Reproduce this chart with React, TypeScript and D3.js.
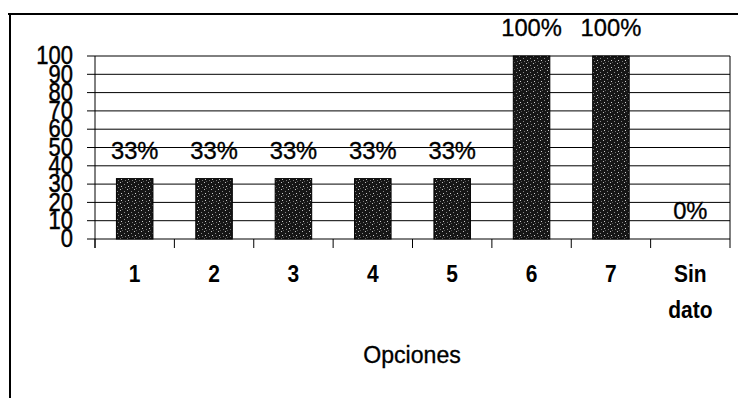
import React from "react";
import * as d3 from "d3";

const categories = ["1", "2", "3", "4", "5", "6", "7", "Sin dato"];
const values = [33, 33, 33, 33, 33, 100, 100, 0];
const labels = ["33%", "33%", "33%", "33%", "33%", "100%", "100%", "0%"];
const yTicks = [0, 10, 20, 30, 40, 50, 60, 70, 80, 90, 100];
const xTitle = "Opciones";

const W = 738;
const H = 398;
const plotLeft = 95;
const plotRight = 730;
const plotTop = 56;
const plotBottom = 239;
const font = "'Liberation Sans', Arial, sans-serif";

export default function App() {
  const x = d3.scaleBand<string>().domain(categories).range([plotLeft, plotRight]).padding(0);
  const y = d3.scaleLinear().domain([0, 100]).range([plotBottom, plotTop]);
  const bw = x.bandwidth() * 0.46;

  return (
    <svg
      width={W}
      height={H}
      style={{ position: "absolute", left: 0, top: 0, background: "#fff" }}
    >
      <defs>
        <pattern id="stip" width="7" height="7" patternUnits="userSpaceOnUse">
          <rect width="7" height="7" fill="#161616" />
          <rect x="1" y="0" width="1" height="1" fill="#bdbdbd" />
          <rect x="5" y="2" width="1" height="1" fill="#8a8a8a" />
          <rect x="2" y="4" width="1" height="1" fill="#d0d0d0" />
          <rect x="6" y="5" width="1" height="1" fill="#777" />
          <rect x="3" y="6" width="1" height="1" fill="#555" />
        </pattern>
      </defs>

      {/* outer frame */}
      <line x1={8} x2={W} y1={14} y2={14} stroke="#000" strokeWidth={2} />
      <line x1={10} x2={10} y1={13} y2={H} stroke="#000" strokeWidth={2} />

      {/* gridlines */}
      {yTicks.map((t) => (
        <line
          key={"g" + t}
          x1={plotLeft - 8}
          x2={plotRight}
          y1={y(t)}
          y2={y(t)}
          stroke="#000"
          strokeWidth={1}
        />
      ))}

      {/* y axis and right border */}
      <line x1={plotLeft} x2={plotLeft} y1={plotTop} y2={plotBottom + 9} stroke="#000" strokeWidth={1} />
      <line x1={plotRight} x2={plotRight} y1={plotTop} y2={plotBottom + 9} stroke="#000" strokeWidth={1} />

      {/* x ticks */}
      {categories.map((c) => (
        <line
          key={"t" + c}
          x1={x(c)!}
          x2={x(c)!}
          y1={plotBottom}
          y2={plotBottom + 9}
          stroke="#000"
          strokeWidth={1}
        />
      ))}

      {/* y tick labels (tall, overlapping as in the scanned original) */}
      {yTicks.map((t) => (
        <text
          key={"yl" + t}
          transform={`translate(73,${y(t) - 1}) scale(1,1.2)`}
          textAnchor="end"
          dominantBaseline="central"
          fontFamily={font}
          fontSize={22}
          fill="#000"
          stroke="#000"
          strokeWidth={0.4}
        >
          {t}
        </text>
      ))}

      {/* bars */}
      {categories.map((c, i) => (
        <rect
          key={"b" + c}
          x={x(c)! + (x.bandwidth() - bw) / 2}
          y={y(values[i])}
          width={bw}
          height={plotBottom - y(values[i])}
          fill="url(#stip)"
          stroke="#000"
          strokeWidth={1}
        />
      ))}

      {/* data labels */}
      {categories.map((c, i) => (
        <text
          key={"dl" + c}
          transform={`translate(${x(c)! + x.bandwidth() / 2},${y(values[i]) - 20}) scale(1.08,1.05)`}
          textAnchor="middle"
          fontFamily={font}
          fontSize={22}
          fill="#000"
          stroke="#000"
          strokeWidth={0.3}
        >
          {labels[i]}
        </text>
      ))}

      {/* x category labels */}
      {categories.map((c) => {
        const parts = c.split(" ");
        const cx = x(c)! + x.bandwidth() / 2;
        return (
          <g key={"xl" + c}>
            {parts.map((p, j) => (
              <text
                key={j}
                transform={`translate(${cx},${282 + j * 36}) scale(1,1.15)`}
                textAnchor="middle"
                fontFamily={font}
                fontSize={21}
                fontWeight="bold"
                fill="#000"
              >
                {p}
              </text>
            ))}
          </g>
        );
      })}

      {/* x title */}
      <text
        transform={`translate(412,363) scale(1.05,1.1)`}
        textAnchor="middle"
        fontFamily={font}
        fontSize={22}
        fill="#000"
        stroke="#000"
        strokeWidth={0.3}
      >
        {xTitle}
      </text>
    </svg>
  );
}
